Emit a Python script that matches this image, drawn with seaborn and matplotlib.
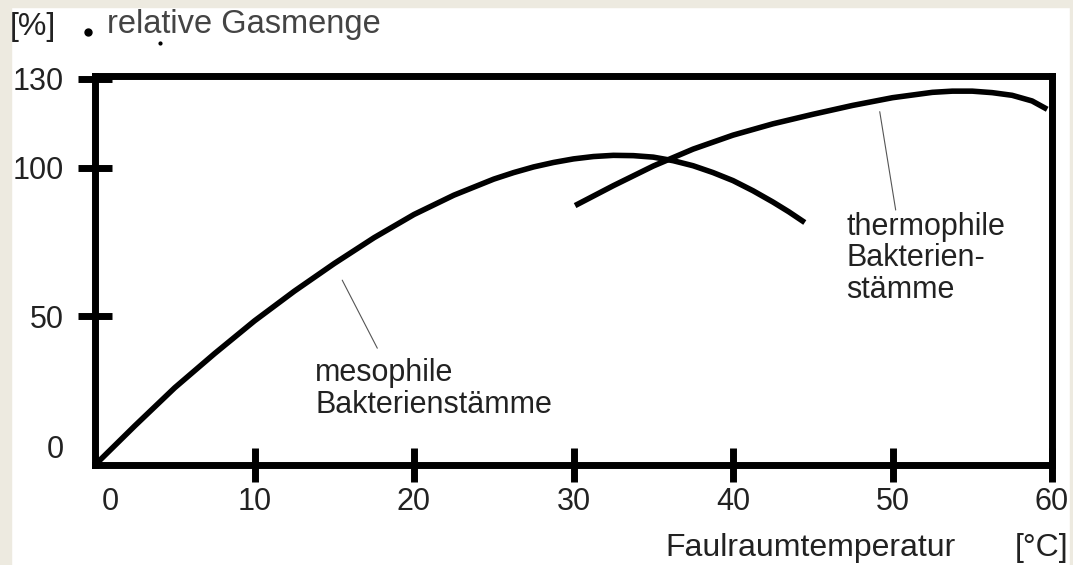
import matplotlib
matplotlib.use('Agg')
import matplotlib.pyplot as plt
import matplotlib.transforms as mtransforms
from matplotlib.patches import Rectangle
import seaborn as sns
import pandas as pd

# Kurven
meso_temp = [0, 2.5, 5, 7.5, 10, 12.5, 15, 17.5, 20, 22.5, 25, 26.25, 27.5, 28.75, 30, 31.25, 32.5,
             33.75, 35, 36.25, 37.5, 38.75, 40, 41.25, 42.5, 43.5, 44.5]
meso_gas = [0, 13.2, 26, 37.5, 48.5, 58.5, 67.8, 76.5, 84.3, 90.8, 96.2, 98.4, 100.3, 101.8, 103, 103.8, 104.2,
            104.1, 103.6, 102.4, 100.7, 98.4, 95.7, 92.3, 88.5, 85.2, 81.6]

thermo_temp = [30.1, 32.5, 35, 37.5, 40, 42.5, 45, 47.5, 50, 52.5, 53.75, 55, 56.25, 57.5, 58.75, 59.7]
thermo_gas = [87.3, 94, 100.6, 106.3, 111, 114.8, 118, 121, 123.6, 125.4, 125.8, 125.8, 125.3, 124.4, 122.5, 119.7]

x_ticks = [0, 10, 20, 30, 40, 50, 60]
y_ticks = [0, 50, 100, 130]

# Hinweislinien (Anfang, Ende)
meso_leader = ([15.5, 17.7], [62.2, 39.3])
thermo_leader = ([49.2, 50.2], [118.9, 85.8])

W, H = 1073, 565
sns.set_style('white')
plt.rcParams['font.family'] = ['Liberation Sans', 'DejaVu Sans']

fig = plt.figure(figsize=(W / 100, H / 100), dpi=100)
fig.patch.set_facecolor('white')
beige = '#edeae0'
fig.patches.append(Rectangle((0, 0), 11 / W, 1, transform=fig.transFigure, color=beige, zorder=0))
fig.patches.append(Rectangle((0, 1 - 7 / H), 1, 7 / H, transform=fig.transFigure, color=beige, zorder=0))
fig.patches.append(Rectangle((1 - 3 / W, 0), 3 / W, 1, transform=fig.transFigure, color=beige, zorder=0))

ax = fig.add_axes([95 / W, 1 - 465 / H, (1052 - 95) / W, (465 - 75.7) / H])
ax.set_facecolor('none')

meso = pd.DataFrame({'temp': meso_temp, 'gas': meso_gas})
thermo = pd.DataFrame({'temp': thermo_temp, 'gas': thermo_gas})
for df in (meso, thermo):
    sns.lineplot(data=df, x='temp', y='gas', color='black', linewidth=4, estimator=None,
                 solid_joinstyle='round', solid_capstyle='butt', ax=ax)

ax.plot(*meso_leader, color='#555555', linewidth=0.8)
ax.plot(*thermo_leader, color='#555555', linewidth=0.8)

ax.text(13.8, 25.5, 'mesophile\nBakterienstämme', fontsize=22, color='#222222',
        ha='left', va='center', linespacing=1.08)
ax.text(47.1, 69.5, 'thermophile\nBakterien-\nstämme', fontsize=22, color='#222222',
        ha='left', va='center', linespacing=1.08)

ax.set_xlim(0, 60)
ax.set_ylim(0, 131)
ax.set_xticks(x_ticks)
ax.set_yticks(y_ticks)
ax.set_xlabel('')
ax.set_ylabel('')
for s in ax.spines.values():
    s.set_linewidth(5)
    s.set_color('black')
ax.tick_params(axis='both', direction='inout', length=25, width=5, color='black',
               bottom=True, left=True, labelsize=22, labelcolor='#222222')
ax.tick_params(axis='y', pad=10)
ax.tick_params(axis='x', pad=3)
ax.xaxis.get_major_ticks()[0].tick1line.set_visible(False)
ax.yaxis.get_major_ticks()[0].tick1line.set_visible(False)

# die beiden "0" sitzen im Original etwas versetzt
ylab0 = ax.get_yticklabels()[0]
ylab0.set_transform(ylab0.get_transform() + mtransforms.ScaledTranslation(0, 13 / 72, fig.dpi_scale_trans))
xlab0 = ax.get_xticklabels()[0]
xlab0.set_transform(xlab0.get_transform() + mtransforms.ScaledTranslation(11 / 72, 0, fig.dpi_scale_trans))


def fx(x):
    return x / W


def fy(y):
    return 1 - y / H


fig.text(fx(10), fy(27), '[%]', fontsize=23, color='#222222', ha='left', va='center')
fig.text(fx(107), fy(25), 'relative Gasmenge', fontsize=23.5, color='#444444', ha='left', va='center')
fig.add_artist(plt.Line2D([fx(88)], [fy(32)], marker='o', markersize=5, color='black',
                          transform=fig.transFigure))
fig.add_artist(plt.Line2D([fx(160)], [fy(43)], marker='o', markersize=2, color='black',
                          transform=fig.transFigure))
fig.text(fx(665), fy(548), 'Faulraumtemperatur', fontsize=23, color='#222222', ha='left', va='center')
fig.text(fx(1015), fy(548), '[°C]', fontsize=23, color='#222222', ha='left', va='center')

fig.savefig('out.png', dpi=100)
